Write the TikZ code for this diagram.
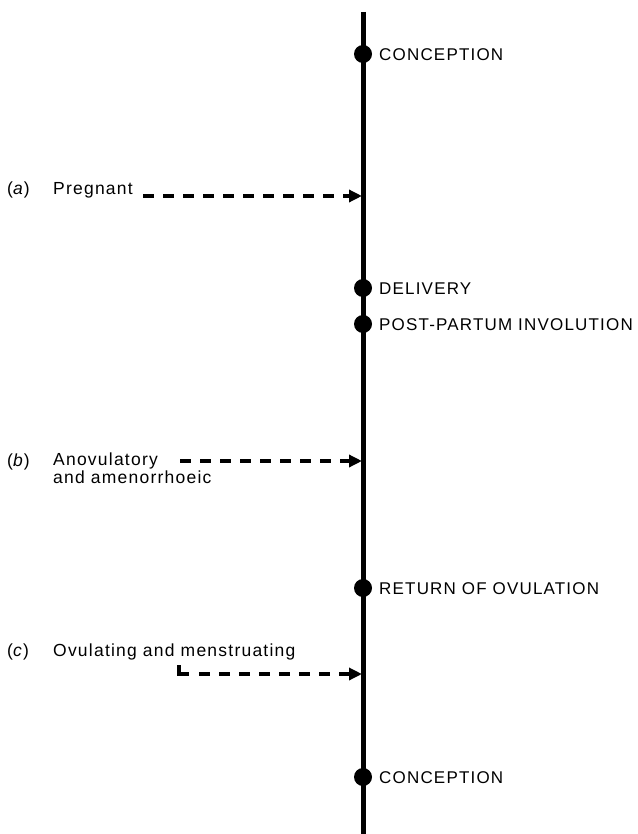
\documentclass[tikz,border=0pt]{standalone}
\usepackage{fontspec}
\setmainfont{Liberation Sans}
\newfontfamily\labfont[LetterSpace=7]{Liberation Sans}
\usetikzlibrary{arrows.meta}
\tikzset{
  dot/.style={circle, fill=black, inner sep=0pt, minimum size=18pt},
  evlabel/.style={anchor=west, inner sep=0pt, font=\labfont\fontsize{17}{20}\selectfont},
  leftlabel/.style={anchor=west, inner sep=0pt, align=left, font=\labfont\fontsize{17.5}{18}\selectfont},
  timeline/.style={line width=5pt},
  statearrow/.style={line width=3.5pt, dash pattern=on 11pt off 9pt, -{Triangle[length=13pt,width=12pt]}, shorten >=-1pt}
}
\begin{document}
\begin{tikzpicture}[x=1pt,y=-1pt]
\useasboundingbox (0,0) rectangle (637,834);
\fill[white] (0,0) rectangle (637,834);
% timeline
\coordinate (top) at (363,12);
\coordinate (bottom) at (363,834);
\draw[timeline] (top) -- (bottom);
% events
\node[dot] (d1) at (363,54) {};
\node[dot] (d2) at (363,288) {};
\node[dot] (d3) at (363,324) {};
\node[dot] (d4) at (363,588) {};
\node[dot] (d5) at (363,777) {};
\node[evlabel] (l1) at (379,55) {CONCEPTION};
\node[evlabel] (l2) at (379,289) {DELIVERY};
\node[evlabel] (l3) at (379,325) {POST-PARTUM INVOLUTION};
\node[evlabel] (l4) at (379,589) {RETURN OF OVULATION};
\node[evlabel] (l5) at (379,778) {CONCEPTION};
% states
\node[leftlabel] (ka) at (7,190) {(\textit{a})};
\node[leftlabel] (sa) at (53,190) {Pregnant};
\node[leftlabel] (kb) at (7,462) {(\textit{b})};
\node[leftlabel, anchor=north west] (sb) at (53,453) {Anovulatory\\and amenorrhoeic};
\node[leftlabel] (kc) at (7,652) {(\textit{c})};
\node[leftlabel] (sc) at (53,652) {Ovulating and menstruating};
% arrows
\coordinate (aS) at (143,196);
\coordinate (aE) at (361,196);
\coordinate (bS) at (180,461);
\coordinate (bE) at (361,461);
\coordinate (cS) at (179,665);
\coordinate (cC) at (179,674);
\coordinate (cE) at (361,674);
\draw[statearrow] (aS) -- (aE);
\draw[statearrow] (bS) -- (bE);
\draw[line width=3.5pt] (cS) -- (cC) -- ++(10,0);
\draw[statearrow] ([xshift=20pt]cC) -- (cE);
\end{tikzpicture}
\end{document}
